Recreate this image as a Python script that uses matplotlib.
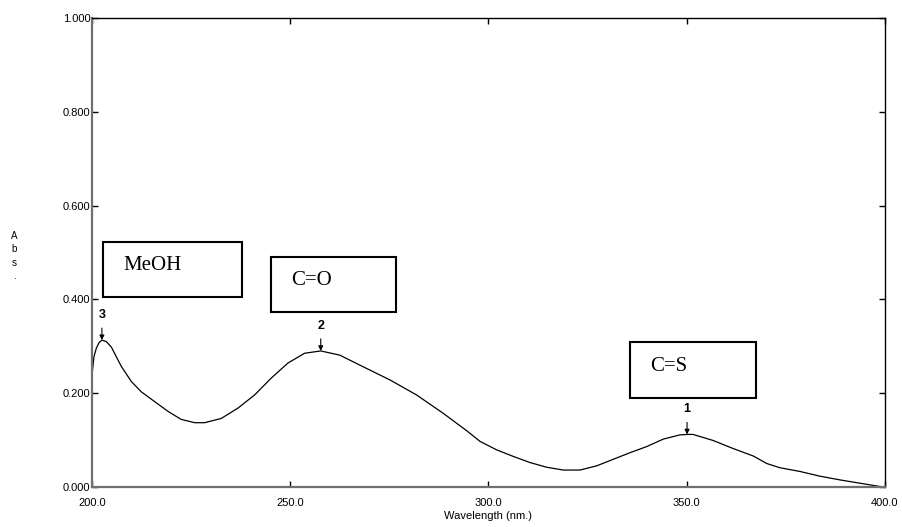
import numpy as np
import matplotlib
matplotlib.use('Agg')
from matplotlib import pyplot as plt
from matplotlib.patches import Rectangle

# absorption spectrum
wavelength = [200.0, 200.5, 201.1, 201.8, 202.5, 203.6, 204.9, 206.1, 207.4, 209.9,
              212.4, 215.8, 219.2, 222.5, 225.9, 228.4, 232.6, 236.8, 241.0, 245.2,
              249.4, 253.6, 257.7, 262.5, 267.5, 275.2, 281.9, 288.6, 294.5, 297.9,
              302.1, 306.3, 310.5, 314.7, 318.9, 323.1, 327.3, 331.5, 335.7, 339.9,
              344.1, 348.3, 350.3, 351.6, 356.7, 361.7, 366.8, 370.2, 373.5, 378.6,
              383.6, 388.7, 393.7, 398.7, 400.0]
absorbance = [0.239, 0.278, 0.296, 0.308, 0.313, 0.310, 0.298, 0.278, 0.257, 0.225,
              0.203, 0.182, 0.161, 0.144, 0.137, 0.137, 0.146, 0.168, 0.196, 0.232,
              0.264, 0.285, 0.290, 0.281, 0.260, 0.228, 0.196, 0.157, 0.120, 0.097,
              0.079, 0.065, 0.052, 0.042, 0.036, 0.036, 0.045, 0.059, 0.073, 0.086,
              0.102, 0.111, 0.112, 0.112, 0.099, 0.082, 0.066, 0.050, 0.041, 0.033,
              0.023, 0.015, 0.008, 0.001, 0.000]

peak_ids = ['3', '2', '1']
peak_wl = [202.5, 257.7, 350.1]
peak_abs = [0.313, 0.290, 0.112]

box_labels = ['MeOH', 'C=O', 'C=S']
box_x = [202.8, 245.1, 335.7]
box_y = [0.405, 0.374, 0.190]

xticks = [200.0, 250.0, 300.0, 350.0, 400.0]
yticks = [0.0, 0.2, 0.4, 0.6, 0.8, 1.0]

fig = plt.figure(figsize=(9.02, 5.27), dpi=100)
ax = fig.add_axes([0.102, 0.076, 0.879, 0.890])

ax.plot(wavelength, absorbance, color='black', lw=0.9)

ax.set_xlim(200, 400)
ax.set_ylim(0, 1.0)
ax.set_xticks(xticks)
ax.set_xticklabels(['%.1f' % t for t in xticks])
ax.set_yticks(yticks)
ax.set_yticklabels(['%.3f' % t for t in yticks])
ax.tick_params(direction='in', length=4, width=1, labelsize=8, top=True, right=True,
               labeltop=False, labelright=False)
ax.tick_params(axis='x', pad=8)
ax.tick_params(axis='y', pad=1)
for lab in ax.get_xticklabels() + ax.get_yticklabels():
    lab.set_family('Liberation Sans')

for side in ['left', 'bottom']:
    ax.spines[side].set_color('#707070')
    ax.spines[side].set_linewidth(1.6)
for side in ['top', 'right']:
    ax.spines[side].set_color('black')
    ax.spines[side].set_linewidth(1.0)

ax.set_xlabel('Wavelength (nm.)', fontsize=8, family='Liberation Sans', labelpad=2)
fig.text(14 / 902, 1 - 256 / 527, 'A\nb\ns\n.', fontsize=7, family='Liberation Sans',
         ha='center', va='center', linespacing=1.45)

# peak markers
for pid, px, py in zip(peak_ids, peak_wl, peak_abs):
    ax.annotate(pid, xy=(px, py), xytext=(0, 18), textcoords='offset points',
                ha='center', va='center', fontsize=9, fontweight='bold',
                family='Liberation Sans',
                arrowprops=dict(arrowstyle='-|>', color='black', lw=0.8,
                                mutation_scale=7, shrinkA=3, shrinkB=0))

# group label boxes
box_w = [35.0, 31.5, 31.8]
box_h = [0.117, 0.117, 0.119]
for lab, bx, by, bw, bh in zip(box_labels, box_x, box_y, box_w, box_h):
    ax.add_patch(Rectangle((bx, by), bw, bh, fill=False, edgecolor='black', lw=1.5))
    ax.text(bx + 5.2, by + bh * 0.57, lab, fontsize=15, family='Liberation Serif',
            ha='left', va='center')

plt.savefig('out.png', dpi=100)
